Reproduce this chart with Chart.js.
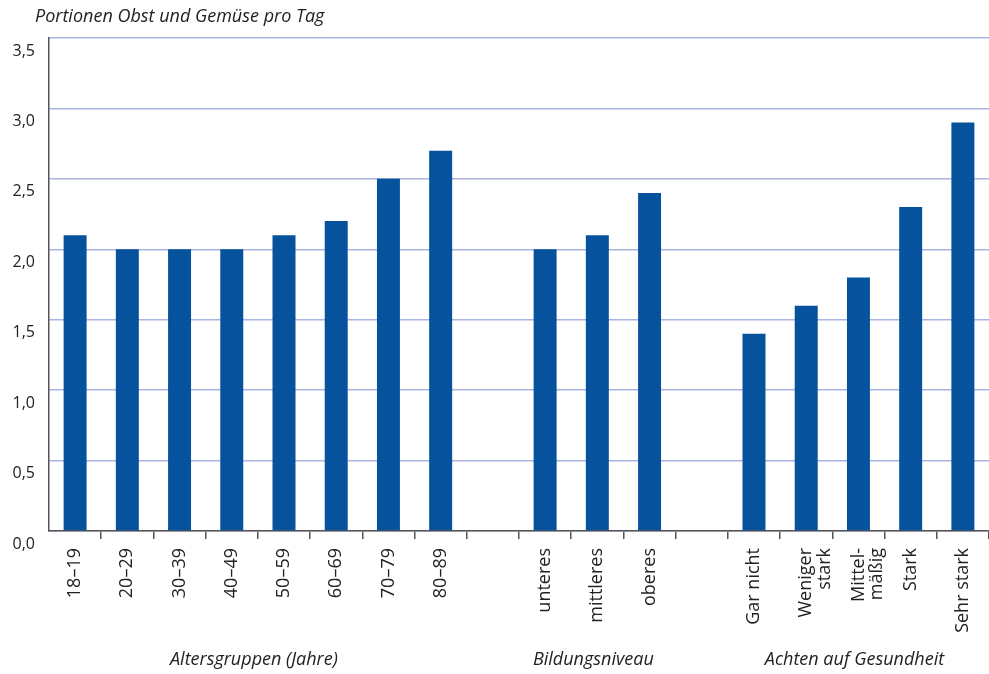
<!DOCTYPE html>
<html>
<head>
<meta charset="utf-8">
<script src="https://cdn.jsdelivr.net/npm/chart.js@4.4.1/dist/chart.umd.min.js"></script>
<style>
  html, body { margin: 0; padding: 0; background: #fff; }
  #wrap { width: 989px; height: 674px; position: relative; }
</style>
</head>
<body>
<div id="wrap"><canvas id="myChart"></canvas></div>
<script>
const categories = ['18–19', '20–29', '30–39', '40–49', '50–59', '60–69', '70–79', '80–89', '',
  'unteres', 'mittleres', 'oberes', '',
  'Gar nicht', ['Weniger', 'stark'], ['Mittel-', 'mäßig'], 'Stark', 'Sehr stark']
const portions = [2.1, 2.0, 2.0, 2.0, 2.1, 2.2, 2.5, 2.7, null,
  2.0, 2.1, 2.4, null,
  1.4, 1.6, 1.8, 2.3, 2.9]
const yTicks = [0, 0.5, 1, 1.5, 2, 2.5, 3, 3.5]
const groupNames = ['Altersgruppen (Jahre)', 'Bildungsniveau', 'Achten auf Gesundheit']
const groupFirst = [0, 9, 13]
const groupLast = [7, 11, 17]
const chartTitle = 'Portionen Obst und Gemüse pro Tag'

const fontFamily = '"Open Sans", sans-serif'
const axisColor = '#555555'

// title + group names under the axis
const extraText = {
  id: 'extraText',
  afterDraw(chart) {
    const ctx = chart.ctx
    const x = chart.scales.x
    ctx.save()
    ctx.fillStyle = '#222'
    ctx.font = 'italic 18px ' + fontFamily
    ctx.textBaseline = 'middle'
    ctx.textAlign = 'left'
    ctx.fillText(chartTitle, 35, 17)
    ctx.textAlign = 'center'
    groupNames.forEach((name, i) => {
      const cx = (x.getPixelForTick(groupFirst[i]) + x.getPixelForTick(groupLast[i])) / 2
      ctx.fillText(name, cx - 4, 660)
    })
    ctx.restore()
  }
}

const ctx = document.getElementById('myChart').getContext('2d')
const myChart = new Chart(ctx, {
  type: 'bar',
  data: {
    labels: categories,
    datasets: [{
      label: 'Portionen',
      data: portions,
      backgroundColor: '#06529c',
      barPercentage: 0.44,
      categoryPercentage: 1
    }]
  },
  options: {
    responsive: true,
    maintainAspectRatio: false,
    animation: false,
    layout: {
      padding: { top: 38, right: 0, left: 0, bottom: 0 }
    },
    plugins: {
      legend: { display: false },
      tooltip: { enabled: false }
    },
    scales: {
      x: {
        offset: true,
        grid: {
          offset: true,
          drawOnChartArea: false,
          drawTicks: true,
          tickLength: 8,
          color: (c) => c.index === 0 ? 'rgba(0,0,0,0)' : axisColor,
          lineWidth: 1.5
        },
        border: { display: true, color: axisColor, width: 1.5 },
        ticks: {
          minRotation: 90,
          maxRotation: 90,
          autoSkip: false,
          padding: 9,
          color: '#222',
          font: { family: fontFamily, size: 18, lineHeight: 1.05 }
        },
        afterFit(scale) {
          scale.height = 143
          scale.paddingLeft = 0
          scale.paddingRight = 0
        }
      },
      y: {
        min: 0,
        max: 3.5,
        afterBuildTicks(scale) { scale.ticks = yTicks.map(v => ({ value: v })) },
        grid: {
          drawTicks: false,
          color: '#aab4e0',
          lineWidth: 1.5
        },
        border: { display: true, color: axisColor, width: 1.5 },
        ticks: {
          padding: 14,
          labelOffset: 13,
          color: '#222',
          font: { family: fontFamily, size: 16 },
          callback: (v) => v.toFixed(1).replace('.', ',')
        },
        afterFit(scale) { scale.width = 49 }
      }
    }
  },
  plugins: [extraText]
})
</script>
</body>
</html>
